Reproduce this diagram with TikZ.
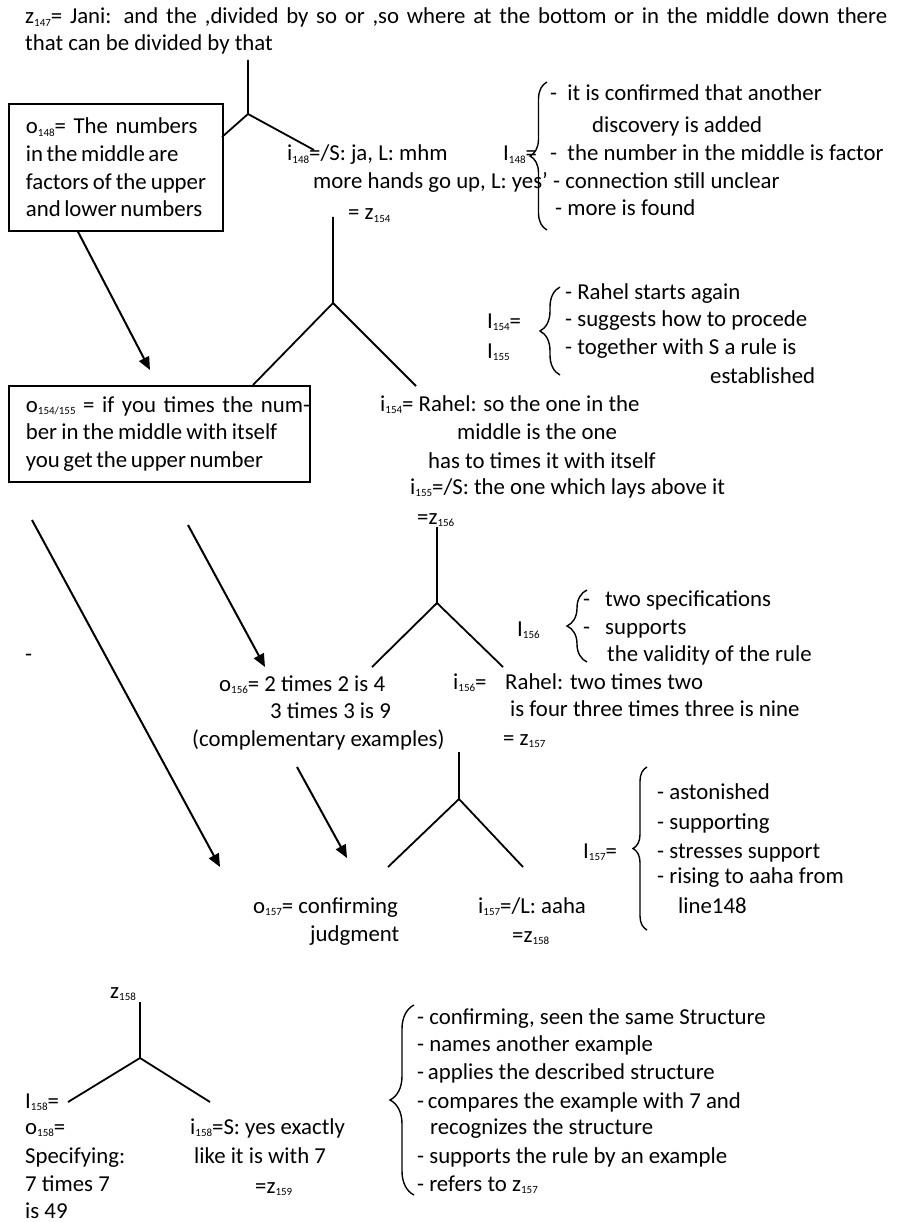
\documentclass[tikz,border=0pt]{standalone}
\usepackage{fontspec}
\setmainfont{Carlito}
\usetikzlibrary{arrows.meta,decorations.pathreplacing}
\newcommand\sbs[1]{\raisebox{-0.25ex}{\fontsize{11}{11}\selectfont #1}}
\tikzset{
  lbl/.style={anchor=base west, inner sep=0pt},
  tree/.style={line width=1.8pt},
  arr/.style={line width=2pt, -{Triangle[length=13pt,width=11pt]}},
  boxn/.style={draw, line width=1.8pt, anchor=north west, inner xsep=17pt, inner ysep=0pt, align=left},
  brc/.style={decorate, decoration={brace, amplitude=#1}, line width=1.4pt},
}
\begin{document}
\begin{tikzpicture}[x=1pt,y=-1pt,font=\fontsize{22.8}{27.8}\selectfont]
\useasboundingbox (0,0) rectangle (897,1222);
% ---------- top utterance
\node[lbl] (t1) at (25,24) {\makebox[862pt][s]{z\sbs{147}= Jani: and the ,divided by so or ,so where at the bottom or in the middle down there}};
\node[lbl] (t2) at (25,51) {that can be divided by that};
% ---------- box o148
\node[boxn, text width=180pt, minimum width=214pt, minimum height=127pt] (box1) at (8,103)
  {\mbox{o\sbs{148}= The numbers}\\\mbox{\spaceskip=3.5pt in the middle are}\\\mbox{\spaceskip=4pt factors of the upper}\\\mbox{\spaceskip=3.5pt and lower numbers}};
% tree 1
\coordinate (y1top) at (248,60);
\coordinate (y1j) at (248,114);
\coordinate (y1l) at (222,137);
\coordinate (y1r) at (314,150);
\draw[tree] (y1top) -- (y1j) -- (y1l);
\draw[tree] (y1j) -- (y1r);
% i148
\node[lbl] (i148a) at (287,161) {i\sbs{148}=/S: ja, L: mhm};
\node[lbl] (i148b) at (313,189) {more hands go up, L: yes'};
\node[lbl] (i148c) at (348,220) {= z\sbs{154}};
% I148
\node[lbl] (I148) at (503,161) {I\sbs{148}=};
\draw[brc=17pt] (547,230) -- (547,82);
\node[lbl] (b1a) at (550,101) {-\ \ it is confirmed that another};
\node[lbl] (b1b) at (592,133) {discovery is added};
\node[lbl] (b1c) at (550,161) {-\ \ the number in the middle is factor};
\node[lbl] (b1d) at (553,189) {- connection still unclear};
\node[lbl] (b1e) at (555,216) {- more is found};
% tree 2
\coordinate (y2top) at (333,217);
\coordinate (y2j) at (333,303);
\coordinate (y2l) at (253,385);
\coordinate (y2r) at (416,386);
\draw[tree] (y2top) -- (y2j) -- (y2l);
\draw[tree] (y2j) -- (y2r);
% arrow 1
\coordinate (a1e) at (150,370);
\draw[arr] ([xshift=70pt]box1.south west) -- (a1e);
% box o154/155
\node[boxn, text width=267pt, minimum width=301pt, minimum height=96pt] (box2) at (8,385)
  {\mbox{o\sbs{154/155} = if you times the num-}\\\mbox{\spaceskip=4.3pt ber in the middle with itself}\\\mbox{\spaceskip=3.5pt you get the upper number}};
% i154/155
\node[lbl] (i154a) at (380,411) {i\sbs{154}= Rahel: so the one in the};
\node[lbl] (i154b) at (457,439) {middle is the one};
\node[lbl] (i154c) at (428,468) {has to times it with itself};
\node[lbl] (i155) at (410,494) {i\sbs{155}=/S: the one which lays above it};
\node[lbl] (z156) at (417,524) {=z\sbs{156}};
% I154/155
\node[lbl] (I154) at (487,328) {I\sbs{154}=};
\node[lbl] (I155) at (487,358) {I\sbs{155}};
\draw[brc=20pt] (560,375) -- (560,287);
\node[lbl] (b2a) at (565,299) {- Rahel starts again};
\node[lbl] (b2b) at (565,326) {- suggests how to procede};
\node[lbl] (b2c) at (565,354) {- together with S a rule is};
\node[lbl] (b2d) at (710,383) {established};
% tree 3
\coordinate (y3top) at (437,527);
\coordinate (y3j) at (437,603);
\coordinate (y3l) at (372,667);
\coordinate (y3r) at (503,667);
\draw[tree] (y3top) -- (y3j) -- (y3l);
\draw[tree] (y3j) -- (y3r);
% arrows 2,3
\coordinate (a2s) at (32,520);
\coordinate (a2e) at (220,867);
\draw[arr] (a2s) -- (a2e);
\coordinate (a3s) at (188,525);
\coordinate (a3e) at (265,667);
\draw[arr] (a3s) -- (a3e);
\node[lbl] (dash) at (25,661) {-};
% o156
\node[lbl] (o156a) at (219,691) {o\sbs{156}= 2 times 2 is 4};
\node[lbl] (o156b) at (270,718) {3 times 3 is 9};
\node[lbl] (o156c) at (192,746) {(complementary examples)};
% i156
\node[lbl] (i156a) at (453,689) {i\sbs{156}=};
\node[lbl] (i156b) at (505,689) {Rahel: two times two};
\node[lbl] (i156c) at (510,716) {is four three times three is nine};
\node[lbl] (z157) at (503,745) {= z\sbs{157}};
% I156
\node[lbl] (I156) at (517,636) {I\sbs{156}};
\draw[brc=20pt] (587,662) -- (587,590);
\node[lbl] (b3a) at (583,606) {-\hspace{15pt}two specifications};
\node[lbl] (b3b) at (583,634) {-\hspace{15pt}supports};
\node[lbl] (b3c) at (607,661) {the validity of the rule};
% tree 4
\coordinate (y4top) at (459,752);
\coordinate (y4j) at (459,799);
\coordinate (y4l) at (388,867);
\coordinate (y4r) at (523,867);
\draw[tree] (y4top) -- (y4j) -- (y4l);
\draw[tree] (y4j) -- (y4r);
% arrow 4
\coordinate (a4s) at (297,767);
\coordinate (a4e) at (347,858);
\draw[arr] (a4s) -- (a4e);
% o157 / i157
\node[lbl] (o157a) at (253,913) {o\sbs{157}= confirming};
\node[lbl] (o157b) at (310,941) {judgment};
\node[lbl] (i157a) at (478,913) {i\sbs{157}=/L: aaha};
\node[lbl] (z158a) at (512,942) {=z\sbs{158}};
% I157
\node[lbl] (I157) at (583,858) {I\sbs{157}=};
\draw[brc=14pt] (647,930) -- (647,767);
\node[lbl] (b4a) at (657,799) {- astonished};
\node[lbl] (b4b) at (657,829) {- supporting};
\node[lbl] (b4c) at (657,858) {- stresses support};
\node[lbl] (b4d) at (657,883) {- rising to aaha from};
\node[lbl] (b4e) at (678,913) {line148};
% tree 5
\node[lbl] (z158b) at (110,998) {z\sbs{158}};
\coordinate (y5top) at (140,1002);
\coordinate (y5j) at (140,1058);
\coordinate (y5l) at (68,1102);
\coordinate (y5r) at (210,1102);
\draw[tree] (y5top) -- (y5j) -- (y5l);
\draw[tree] (y5j) -- (y5r);
\node[lbl] (I158) at (25,1108) {I\sbs{158}=};
\node[lbl] (o158) at (25,1134) {o\sbs{158}=};
\node[lbl] (spec) at (25,1163) {Specifying:};
\node[lbl] (sev) at (25,1191) {7 times 7};
\node[lbl] (is49) at (25,1218) {is 49};
\node[lbl] (i158a) at (190,1134) {i\sbs{158}=S: yes exactly};
\node[lbl] (i158b) at (194,1163) {like it is with 7};
\node[lbl] (z159) at (255,1193) {=z\sbs{159}};
% bottom brace
\draw[brc=24pt] (414,1195) -- (414,1005);
\node[lbl] (b5a) at (417,1024) {- confirming, seen the same Structure};
\node[lbl] (b5b) at (417,1051) {- names another example};
\node[lbl] (b5c) at (417,1079) {-\,applies the described structure};
\node[lbl] (b5d) at (417,1108) {-\,compares the example with 7 and};
\node[lbl] (b5e) at (430,1134) {recognizes the structure};
\node[lbl] (b5f) at (417,1163) {- supports the rule by an example};
\node[lbl] (b5g) at (417,1191) {- refers to z\sbs{157}};
\end{tikzpicture}
\end{document}
